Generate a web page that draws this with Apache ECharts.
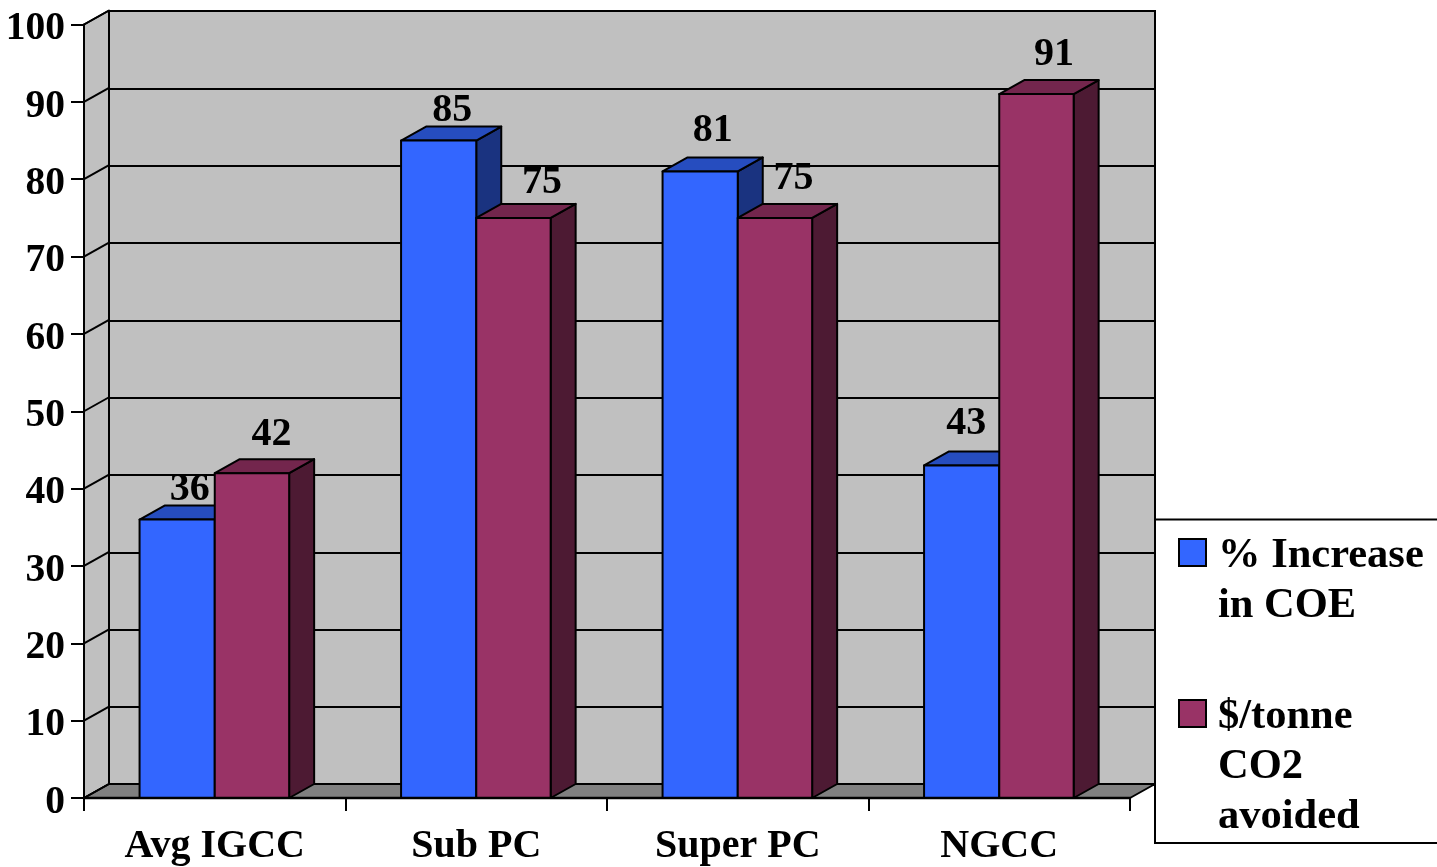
<!DOCTYPE html>
<html><head><meta charset="utf-8">
<style>html,body{margin:0;padding:0;background:#fff}#c{width:1437px;height:867px}</style>
<script src="https://cdn.jsdelivr.net/npm/echarts@6/dist/echarts.min.js"></script>
</head><body><div id="c"></div>
<script>
var categories = ['Avg IGCC', 'Sub PC', 'Super PC', 'NGCC'];
var seriesNames = ['% Increase\nin COE', '$/tonne\nCO2\navoided'];
var increaseCOE = [36, 85, 81, 43];
var dollarsPerTonne = [42, 75, 75, 91];
var yTicks = [0, 10, 20, 30, 40, 50, 60, 70, 80, 90, 100];
var increaseLabelNudge = [[0, 0], [1, 0], [0, -11], [-8, -12]];
var dollarsLabelNudge = [[7, -8], [16, -5], [6, -9], [5, -9]];

var FONT = '"Liberation Serif","Times New Roman",serif';
var DX = 25, DY = -14, LW = 2;
var chart = echarts.init(document.getElementById('c'));

function poly(points, fill) {
  return { type: 'polygon', shape: { points: points }, style: { fill: fill, stroke: '#000', lineWidth: LW, lineJoin: 'round' } };
}
function barRender(side, front, top, dark, nudges) {
  return function (params, api) {
    var i = api.value(0), v = api.value(1);
    var t = api.coord([i, v]), b = api.coord([i, 0]);
    var w = api.size([1, 0])[0] * (side < 0 ? 0.2875 : 0.2845);
    var x0 = side < 0 ? t[0] - w : t[0], x1 = x0 + w;
    var n = nudges[i];
    return { type: 'group', children: [
      poly([[x1, t[1]], [x1 + DX, t[1] + DY], [x1 + DX, b[1] + DY], [x1, b[1]]], dark),
      poly([[x0, t[1]], [x0 + DX, t[1] + DY], [x1 + DX, t[1] + DY], [x1, t[1]]], top),
      poly([[x0, t[1]], [x1, t[1]], [x1, b[1]], [x0, b[1]]], front),
      { type: 'text', z2: 50, style: { x: (x0 + x1) / 2 + DX / 2 + n[0], y: t[1] + DY - 16 + n[1], text: String(v),
        font: 'bold 40px ' + FONT, fill: '#000', align: 'center', verticalAlign: 'middle' } }
    ] };
  };
}
function wallRender(params, api) {
  var cs = params.coordSys, y0 = cs.y + cs.height, yT = cs.y;
  var L = cs.x, R = cs.x + cs.width;
  return { type: 'group', children: [
    poly([[L, yT], [L + DX, yT + DY], [L + DX, y0 + DY], [L, y0]], '#C0C0C0'),
    poly([[L, y0], [L + DX, y0 + DY], [R + DX, y0 + DY], [R, y0]], '#808080')
  ] };
}
function tickRender(params, api) {
  var p = api.coord([0, api.value(0)]);
  var x = params.coordSys.x;
  return { type: 'line', shape: { x1: x, y1: p[1], x2: x + DX, y2: p[1] + DY }, style: { stroke: '#000', lineWidth: LW } };
}

chart.setOption({
  animation: false,
  backgroundColor: '#fff',
  grid: [
    { left: 84, top: 24.5, width: 1046, height: 774 },
    { left: 109, top: 11, width: 1046, height: 773.5, show: true, backgroundColor: '#C0C0C0', borderColor: '#000', borderWidth: 2 }
  ],
  xAxis: [
    { type: 'category', gridIndex: 0, data: categories, z: 6,
      axisLine: { lineStyle: { color: '#000', width: 2.4 } },
      axisTick: { show: true, length: 13, lineStyle: { color: '#000', width: 2 } },
      axisLabel: { color: '#000', fontFamily: FONT, fontWeight: 'bold', fontSize: 40, margin: 29 } },
    { type: 'category', gridIndex: 1, data: categories, show: false }
  ],
  yAxis: [
    { type: 'value', gridIndex: 0, min: 0, max: 100, interval: 10, z: 6, splitLine: { show: false },
      axisLine: { show: true, lineStyle: { color: '#000', width: 2 } },
      axisTick: { show: true, length: 13, lineStyle: { color: '#000', width: 2 } },
      axisLabel: { color: '#000', fontFamily: FONT, fontWeight: 'bold', fontSize: 39.5, margin: 19, verticalAlign: 'top', lineHeight: 9 } },
    { type: 'value', gridIndex: 1, min: 0, max: 100, interval: 10,
      axisLine: { show: false }, axisTick: { show: false }, axisLabel: { show: false },
      splitLine: { show: true, lineStyle: { color: '#000', width: 1.8 } } }
  ],
  legend: {
    orient: 'vertical', left: 1178, top: 481.5, height: 2000, padding: 0, itemGap: -39, itemWidth: 27, itemHeight: 35,
    icon: 'path://M0 0H27V27H0Z M0 35L0 35', selectedMode: false, data: seriesNames,
    formatter: function (name) {
      var n = name.split('\n').length - 1, pre = '';
      for (var i = 0; i < n; i++) pre += ' \n';
      return pre + name;
    },
    itemStyle: { borderColor: '#000', borderWidth: 2 },
    textStyle: { color: '#000', fontFamily: FONT, fontWeight: 'bold', fontSize: 42.5, lineHeight: 50, padding: [0, 0, 0, 7] }
  },
  graphic: [{ type: 'rect', z: 3, shape: { x: 1155, y: 519.5, width: 320, height: 323.5 },
    style: { fill: '#fff', stroke: '#000', lineWidth: 2 } }],
  series: [
    { type: 'custom', name: 'walls', z: 1, xAxisIndex: 0, yAxisIndex: 0, data: [[0]], renderItem: wallRender, silent: true },
    { type: 'custom', name: 'wallTicks', z: 1, xAxisIndex: 0, yAxisIndex: 0, data: yTicks.map(function (v) { return [v]; }),
      encode: { y: 0 }, renderItem: tickRender, silent: true },
    { type: 'custom', name: seriesNames[0], z: 2, xAxisIndex: 0, yAxisIndex: 0,
      itemStyle: { color: '#3366FF' },
      data: increaseCOE.map(function (v, i) { return [i, v]; }), encode: { x: 0, y: 1 },
      renderItem: barRender(-1, '#3366FF', '#264DBF', '#1A3380', increaseLabelNudge) },
    { type: 'custom', name: seriesNames[1], z: 2, xAxisIndex: 0, yAxisIndex: 0,
      itemStyle: { color: '#993366' },
      data: dollarsPerTonne.map(function (v, i) { return [i, v]; }), encode: { x: 0, y: 1 },
      renderItem: barRender(1, '#993366', '#73264D', '#4D1A33', dollarsLabelNudge) }
  ]
});
</script></body></html>
